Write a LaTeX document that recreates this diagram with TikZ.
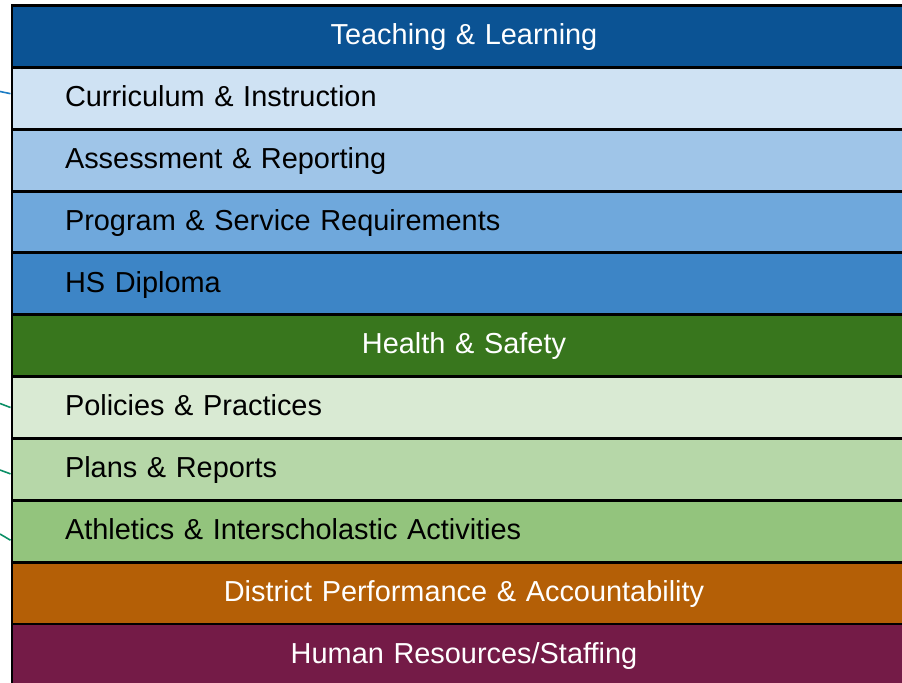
\documentclass[tikz,border=0pt]{standalone}
\usepackage{fontspec}
\setmainfont{Liberation Sans}
\usetikzlibrary{positioning}

\definecolor{tlhead}{HTML}{0B5394}
\definecolor{tlone}{HTML}{CFE2F3}
\definecolor{tltwo}{HTML}{9FC5E8}
\definecolor{tlthree}{HTML}{6FA8DC}
\definecolor{tlfour}{HTML}{3D85C6}
\definecolor{hshead}{HTML}{38761D}
\definecolor{hsone}{HTML}{D9EAD3}
\definecolor{hstwo}{HTML}{B6D7A8}
\definecolor{hsthree}{HTML}{93C47D}
\definecolor{dphead}{HTML}{B45F06}
\definecolor{hrhead}{HTML}{741B47}
\definecolor{linkblue}{HTML}{1C7CC4}
\definecolor{linkteal}{HTML}{0B8F66}

\begin{document}
\begin{tikzpicture}[
  row/.style={rectangle, draw=black, line width=1.7pt, minimum height=1.237cm,
    text width=15.96cm, inner xsep=1.06cm, inner ysep=0pt, outer sep=0pt,
    text height=1.0em, text depth=0.06em, font=\fontsize{16.45}{19}\selectfont},
  head/.style={row, align=center, text=white},
  item/.style={row, align=left, text=black},
  link/.style={line width=0.9pt},
  node distance=0pt
]
\useasboundingbox (0,0) rectangle (18.04,-13.66);
\clip (0,0) rectangle (18.04,-13.66);

% teaching & learning
\node[head, fill=tlhead, anchor=north west] (tl) at (0.24,-0.11) {Teaching \& Learning};
\node[item, fill=tlone, below=of tl] (ci) {Curriculum \& Instruction};
\node[item, fill=tltwo, below=of ci] (ar) {Assessment \& Reporting};
\node[item, fill=tlthree, below=of ar] (ps) {Program \& Service Requirements};
\node[item, fill=tlfour, below=of ps] (hsd) {HS Diploma};

% health & safety
\node[head, fill=hshead, below=of hsd] (hs) {Health \& Safety};
\node[item, fill=hsone, below=of hs] (pp) {Policies \& Practices};
\node[item, fill=hstwo, below=of pp] (pr) {Plans \& Reports};
\node[item, fill=hsthree, below=of pr] (ath) {Athletics \& Interscholastic Activities};

% the rest
\node[head, fill=dphead, below=of ath] (dp) {District Performance \& Accountability};
\node[head, fill=hrhead, below=of dp] (hr) {Human Resources/Staffing};

% links coming in from the left
\coordinate (ci-in) at (0,-1.83);
\coordinate (pp-in) at (0,-8.07);
\coordinate (pr-in) at (0,-9.40);
\coordinate (ath-in) at (0,-10.68);
\draw[link, linkblue] (ci-in) -- ([xshift=-0.85pt, yshift=0.092cm]ci.west);
\draw[link, linkteal] (pp-in) -- ([xshift=-0.85pt]pp.west);
\draw[link, linkteal] (pr-in) -- ([xshift=-0.85pt, yshift=-0.09cm]pr.west);
\draw[link, linkteal] (ath-in) -- ([xshift=-0.85pt, yshift=-0.18cm]ath.west);
\end{tikzpicture}
\end{document}
